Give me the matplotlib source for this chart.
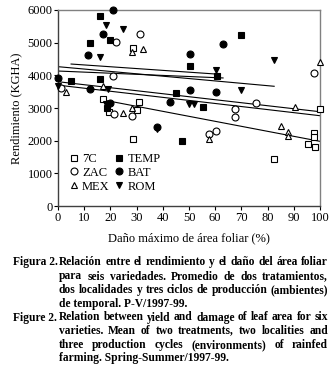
import numpy as np
import matplotlib
matplotlib.use("Agg")
import matplotlib.pyplot as plt

plt.rcParams['font.family'] = ['Liberation Serif', 'DejaVu Serif']

# data (damage %, yield KGHA)
x_7c = [17.2, 19.3, 28.7, 28.7, 31.0, 30.1, 82.5, 95.3, 97.7, 97.7, 98.1, 100.0]
y_7c = [3270, 2865, 4825, 2060, 3170, 2925, 1450, 1885, 2225, 2100, 1815, 2960]
x_zac = [1.0, 20.9, 22.3, 31.2, 21.3, 28.4, 67.5, 67.5, 60.3, 57.8, 75.4, 97.7]
y_zac = [3600, 3980, 5010, 5275, 2820, 2760, 2970, 2710, 2295, 2195, 3140, 4060]
x_mex = [3.2, 17.0, 24.7, 28.4, 28.4, 32.3, 57.6, 85.0, 87.6, 87.6, 90.4, 100.0]
y_mex = [3490, 3670, 2840, 2990, 4720, 4795, 2050, 2455, 2260, 2150, 3030, 4410]
x_temp = [16.0, 12.4, 19.8, 4.9, 16.2, 18.8, 45.2, 50.2, 55.2, 60.5, 69.8, 47.5]
y_temp = [5825, 4980, 5080, 3820, 3890, 2985, 3445, 4280, 3035, 3985, 5228, 2000]
x_bat = [0.0, 12.3, 11.5, 17.2, 20.9, 19.8, 42.8, 50.2, 50.3, 60.2, 62.8, 37.6]
y_bat = [3910, 3590, 4620, 5280, 6000, 3140, 3185, 4660, 3540, 3480, 4950, 2420]
x_rom = [0.0, 18.5, 24.9, 15.9, 19.0, 18.2, 50.0, 52.0, 60.2, 69.8, 82.5, 37.6]
y_rom = [3680, 5540, 5410, 4570, 3570, 3120, 3110, 3110, 4175, 3550, 4475, 2370]

# fitted lines (start/end points)
line_x = [[5.0, 62.0], [0.0, 82.5], [0.0, 63.0], [0.0, 100.0], [0.0, 100.0], [17.0, 100.0]]
line_y = [[4346, 4030], [4265, 3665], [4132, 3920], [3805, 2886], [3700, 2764], [3250, 1980]]

fig = plt.figure(figsize=(3.36, 3.73), dpi=100)
ax = fig.add_axes([0.1726, 0.4477, 0.7798, 0.5255])

for lx, ly in zip(line_x, line_y):
    ax.plot(lx, ly, color='black', lw=0.8, zorder=2)

ms = 5.0
mk = dict(ls='', ms=ms, mew=0.8, clip_on=False, zorder=3)
ax.plot(x_7c, y_7c, marker='s', mfc='white', mec='black', label='7C', **mk)
ax.plot(x_zac, y_zac, marker='o', mfc='white', mec='black', label='ZAC', **mk)
ax.plot(x_mex, y_mex, marker='^', mfc='white', mec='black', label='MEX', **mk)
ax.plot(x_temp, y_temp, marker='s', mfc='black', mec='black', label='TEMP', **mk)
ax.plot(x_bat, y_bat, marker='o', mfc='black', mec='black', label='BAT', **mk)
ax.plot(x_rom, y_rom, marker='v', mfc='black', mec='black', label='ROM', **mk)

ax.set_xlim(0, 100)
ax.set_ylim(0, 6000)
ax.set_xticks(np.arange(0, 101, 10))
ax.set_yticks(np.arange(0, 6001, 1000))
ax.tick_params(direction='out', length=3, width=0.8, labelsize=9, pad=1)
for s in ax.spines.values():
    s.set_color('0.5')
    s.set_linewidth(1.0)
ax.spines['left'].set_color('0.25')
ax.spines['bottom'].set_color('0.25')

ax.set_xlabel('Daño máximo de área foliar (%)', fontsize=9, labelpad=6)
ax.set_ylabel('Rendimiento (KGHA)', fontsize=9, labelpad=4)

ax.legend(loc='lower left', bbox_to_anchor=(0.035, 0.055), ncol=2, frameon=False,
          fontsize=9, handlelength=0.7, handletextpad=0.3, columnspacing=0.4,
          labelspacing=0.15, borderpad=0.2, borderaxespad=0)

# caption, justified by hand
W, H = 336.0, 373.0
cap = [
    ('Figura 2.', 'Relación entre el rendimiento y el daño del área foliar', True, 262),
    (None, 'para seis variedades. Promedio de dos tratamientos,', True, 276.5),
    (None, 'dos localidades y tres ciclos de producción (ambientes)', True, 290),
    (None, 'de temporal. P-V/1997-99.', False, 304),
    ('Figure 2.', 'Relation between yield and damage of leaf area for six', True, 317.5),
    (None, 'varieties. Mean of two treatments, two localities and', True, 331.5),
    (None, 'three production cycles (environments) of rainfed', True, 345),
    (None, 'farming. Spring-Summer/1997-99.', False, 358.5),
]
tkw = dict(fontsize=8.3, fontweight='bold', va='center', ha='left')
renderer = fig.canvas.get_renderer()
x0, x1 = 59.0, 328.0
for head, line, just, ypx in cap:
    yf = 1 - ypx / H
    if head:
        fig.text(13 / W, yf, head, **tkw)
    words = line.split(' ')
    if not just:
        fig.text(x0 / W, yf, line, **tkw)
        continue
    objs = [fig.text(0, yf, w, **tkw) for w in words]
    widths = [o.get_window_extent(renderer).width for o in objs]
    gap = (x1 - x0 - sum(widths)) / (len(words) - 1)
    xp = x0
    for o, w in zip(objs, widths):
        o.set_x(xp / W)
        xp += w + gap

fig.savefig('out.png', dpi=100)
